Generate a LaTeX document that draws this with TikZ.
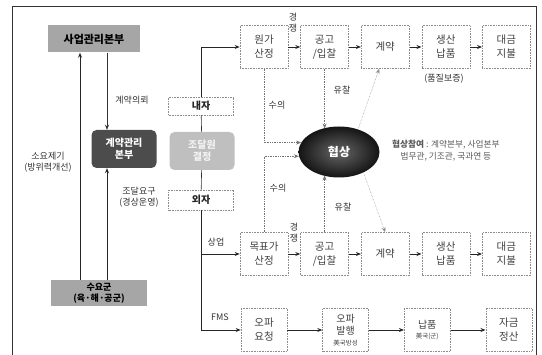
\documentclass[tikz,border=0pt]{standalone}
\usepackage{fontspec}
\setmainfont{Noto Sans CJK KR}
\usepackage{tikz}
\usetikzlibrary{
    shapes.geometric,
    arrows.meta,
    positioning,
    calc
}

\begin{document}
\begin{tikzpicture}[
    x=1pt, y=-1pt,
    >={Stealth[length=5pt, width=4pt]},
    node distance=12pt and 12pt,
    every text node part/.style={align=center},
    txt/.style={font=\fontsize{9}{11}\selectfont, inner sep=1pt, text=black!80},
    stepbox/.style={draw=black!45, densely dotted, line width=0.6pt, minimum width=48pt, minimum height=43pt, inner sep=2pt, font=\fontsize{10.5}{14}\selectfont, text=black!75},
    fmsbox/.style={stepbox, minimum width=46pt},
    srcbox/.style={stepbox, minimum width=65pt, minimum height=18pt, font=\bfseries\fontsize{10}{11}\selectfont, text=black!85},
    orgbox/.style={fill=black!35, inner sep=2pt, font=\bfseries\fontsize{11}{12}\selectfont},
    hqbox/.style={rounded corners=5pt, minimum width=65pt, minimum height=38pt, font=\bfseries\fontsize{10}{12}\selectfont, text=white},
    flow/.style={draw=black!85, line width=0.8pt, ->},
    link/.style={draw=black!80, line width=0.6pt},
    side/.style={draw=black!55, densely dotted, line width=0.7pt, ->}
]
\useasboundingbox (0,0) rectangle (542,355);

% ==================== FRAME ====================
\draw[black!80, line width=0.8pt] (12,355) -- (12,6) -- (536,6) -- (536,355);

% ==================== ORGANISATIONS ====================
\node[orgbox, minimum width=92pt, minimum height=27pt] (sa) at (94,39) {사업관리본부};
\node[hqbox, fill=black!70] (kb) at (124,149) {계약관리\\본부};
\node[orgbox, minimum width=96pt, minimum height=26pt, font=\bfseries\fontsize{9}{10.5}\selectfont] (sy) at (99,293) {수요군\\(육·해·공군)};

\draw[flow] ([xshift=-19pt]sy.north) -- ([xshift=-19pt]sy.north |- sa.south);
\node[txt] (sy_lbl) at (48,162) {소요제기\\(방위력개선)};
\draw[link, ->] ([xshift=13pt]sa.south) -- ([xshift=13pt]sa.south |- kb.north);
\node[txt] (ui_lbl) at (132,100) {계약의뢰};
\draw[flow] ([xshift=8pt]sy.north) -- ([xshift=8pt]sy.north |- kb.south);
\node[txt] (jd_lbl) at (139,197) {조달요구\\(경상운영)};

% ==================== DOMESTIC / FOREIGN ====================
\node[srcbox] (nj) at (201,106) {내자};
\node[hqbox, fill=black!25, text=black!5] (lb) at (202,151) {조달원\\결정};
\node[srcbox, minimum height=20pt] (wj) at (201,200) {외자};
\draw[link] (nj) -- (lb);
\draw[link] (lb) -- (wj);

% ==================== DOMESTIC ROW ====================
\node[stepbox] (won) at (264,47) {원가\\산정};
\node[stepbox, right=of won] (gong) {공고\\/입찰};
\node[stepbox, right=of gong] (gye) {계약};
\node[stepbox, right=of gye] (saeng) {생산\\납품};
\node[stepbox, right=of saeng] (dae) {대금\\지불};
\foreach \a/\b in {won/gong, gong/gye, gye/saeng, saeng/dae}
    \draw[flow] (\a) -- (\b);
\node[txt] (kj_lbl) at (293,23) {경\\쟁};
\node[txt] (qa_lbl) at (444,79) {(품질보증)};
\draw[flow] (nj.north) |- (won.west);

% ==================== COMMERCIAL ROW ====================
\node[stepbox] (mok) at (264,254) {목표가\\산정};
\node[stepbox, right=of mok] (gong2) {공고\\/입찰};
\node[stepbox, right=of gong2] (gye2) {계약};
\node[stepbox, right=of gye2] (saeng2) {생산\\납품};
\node[stepbox, right=of saeng2] (dae2) {대금\\지불};
\foreach \a/\b in {mok/gong2, gong2/gye2, gye2/saeng2, saeng2/dae2}
    \draw[flow] (\a) -- (\b);
\node[txt] (kj2_lbl) at (294,233) {경\\쟁};
\draw[flow] (wj.south) |- (mok.west);
\node[txt] (su_lbl) at (216,242) {상업};

% ==================== FMS ROW ====================
\node[fmsbox] (opy) at (264,330) {오파\\요청};
\node[fmsbox, right=35pt of opy, font=\fontsize{10}{12.5}\selectfont] (opb) {오파\\발행\\[-2pt]{\fontsize{6.5}{7}\selectfont 美국방성}};
\node[fmsbox, right=35pt of opb, font=\fontsize{10}{12.5}\selectfont] (nap) {납품\\[-2pt]{\fontsize{6.5}{7}\selectfont 美국(군)}};
\node[fmsbox, right=35pt of nap] (jg) {자금\\정산};
\foreach \a/\b in {opy/opb, opb/nap, nap/jg}
    \draw[flow] (\a) -- (\b);
\draw[flow] (wj.south) |- (opy.west);
\node[txt] (fms_lbl) at (220,317) {FMS};

% ==================== NEGOTIATION ====================
\node[ellipse, shading=radial, inner color=black!60, outer color=black!92, minimum width=81pt, minimum height=51pt, font=\bfseries\fontsize{12}{13}\selectfont, text=white] (hs) at (339,152) {협상};
\draw[side] (won.south) |- (hs.166);
\draw[side] (mok.north) |- (hs.186);
\node[txt] (sui_lbl) at (277,105) {수의};
\node[txt] (sui2_lbl) at (278,188) {수의};
\draw[side] (gong.south) -- (gong.south |- hs.125);
\draw[side] (gong2.north) -- (gong2.north |- hs.235);
\node[txt] (yc_lbl) at (342,90) {유찰};
\node[txt] (yc2_lbl) at (343,207) {유찰};
\draw[side, draw=black!45, line width=0.5pt] (hs.50) -- ([xshift=-6pt]gye.south);
\draw[side, draw=black!45, line width=0.5pt] (hs.-40) -- (gye2.north);
\node[txt, align=left, anchor=west, text=black!65, font=\fontsize{8.7}{12}\selectfont] (note) at (391,151) {\textbf{협상참여} : 계약본부, 사업본부\\법무관, 기조관, 국과연 등};

\end{tikzpicture}
\end{document}
